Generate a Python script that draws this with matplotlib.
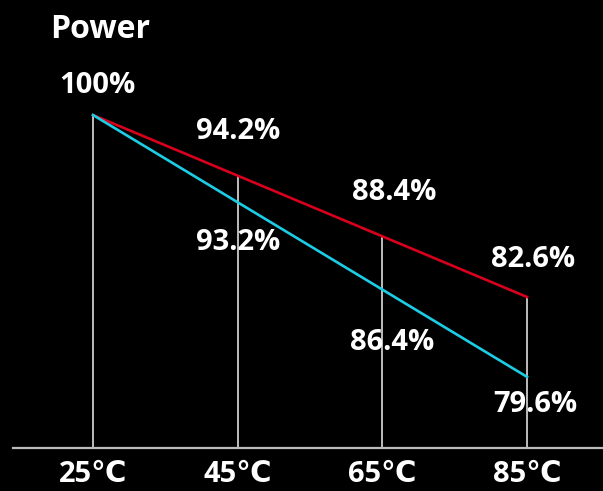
import matplotlib.pyplot as plt

# temperature categories and relative power of two module types
temps = ["25℃", "45℃", "65℃", "85℃"]
power_red = [100, 94.2, 88.4, 82.6]
power_cyan = [100, 93.2, 86.4, 79.6]

# label offsets in pixels (dx, dy)
red_offsets = [(4, 30), (0, 44), (12, 44), (6, 37)]
cyan_offsets = [None, (0, -40), (10, -53), (8, -28)]

plt.rcParams['font.family'] = ['Open Sans', 'DejaVu Sans']

fig = plt.figure(figsize=(6.03, 4.91), dpi=100, facecolor='black')
ax = fig.add_axes([13 / 603, 43 / 491, 590 / 603, 448 / 491])
ax2 = ax.twinx()
for a in (ax, ax2):
    a.set_facecolor('none')
    for s in a.spines.values():
        s.set_visible(False)
    a.set_yticks([])
ax.set_facecolor('black')

x = list(range(len(temps)))
ax.set_xlim(-0.553, 3.525)
ax.set_ylim(68.16, 111.0)
ax2.set_ylim(74.06, 108.96)

ax.spines['bottom'].set_visible(True)
ax.spines['bottom'].set_color('#bdbdbd')
ax.spines['bottom'].set_linewidth(1.6)

ax.vlines(x, 68.16, power_red, color='#bdbdbd', lw=1.4, zorder=1)
ax.plot(x, power_red, color='#d8001c', lw=1.9, zorder=3)
ax2.plot(x, power_cyan, color='#1ccde6', lw=1.9, zorder=2)

fs = 21
for xi, v, off in zip(x, power_red, red_offsets):
    lbl = "100%" if v == 100 else f"{v:.1f}%"
    ax.annotate(lbl, (xi, v), xytext=off, textcoords='offset pixels',
                ha='center', va='center', color='white', fontsize=fs,
                fontweight='bold', zorder=5)
for xi, v, off in zip(x, power_cyan, cyan_offsets):
    if off is None:
        continue
    ax2.annotate(f"{v:.1f}%", (xi, v), xytext=off, textcoords='offset pixels',
                 ha='center', va='center', color='white', fontsize=fs,
                 fontweight='bold', zorder=5)

ax.set_xticks(x)
ax.set_xticklabels(temps, color='white', fontsize=fs, fontweight='bold')
ax.tick_params(axis='x', length=0, pad=9)
ax2.tick_params(axis='x', length=0)

fig.text(100 / 603, 1 - 29 / 491, "Power", ha='center', va='center',
         color='white', fontsize=23, fontweight='bold')

fig.savefig('out.png', facecolor='black')
